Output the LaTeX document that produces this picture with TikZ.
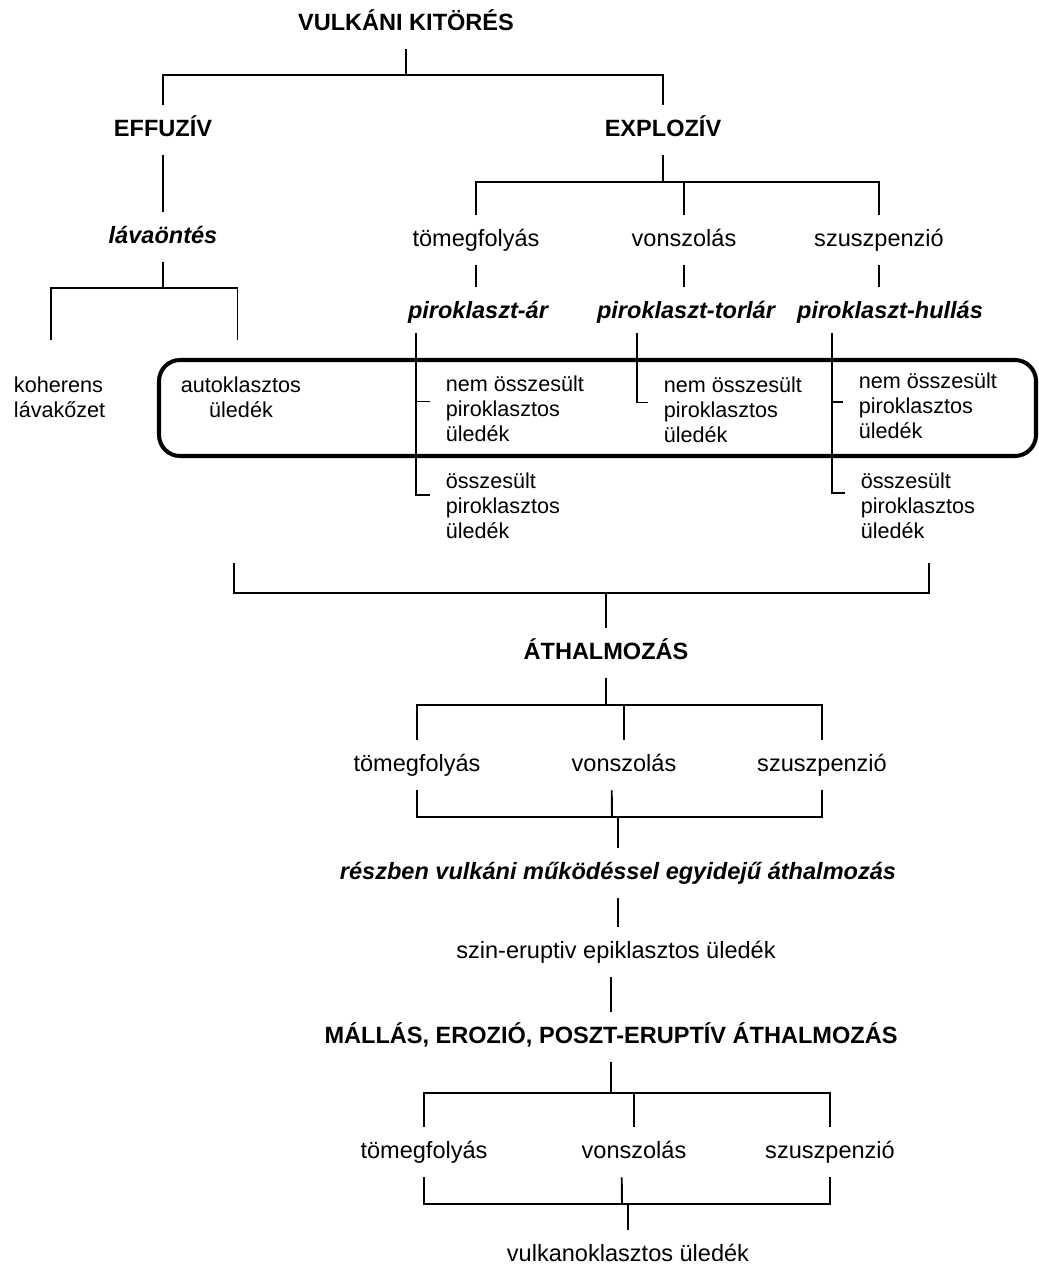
\documentclass[tikz,border=0pt]{standalone}
\usepackage{fontspec}
\setmainfont{Liberation Sans}

\tikzset{
    txt/.style={font=\fontsize{13.4}{14.2}\selectfont, inner sep=0pt},
    small/.style={font=\fontsize{12.3}{14.2}\selectfont, inner sep=0pt},
    tnode/.style={txt, text height=10pt, text depth=3pt, outer ysep=8pt},
    head/.style={tnode, font=\fontsize{13.4}{14.2}\selectfont\bfseries},
    proc/.style={tnode, font=\fontsize{13.4}{14.2}\selectfont\bfseries\itshape},
    side/.style={small, align=left, anchor=west, outer xsep=9pt},
    link/.style={line width=1.1pt}
}

\begin{document}
\begin{tikzpicture}[x=0.02cm, y=-0.02cm, link]
    \useasboundingbox (0,0) rectangle (1038,1270);

    % kitores
    \node[head] (vulk) at (406,24) {VULKÁNI KITÖRÉS};
    \node[head] (eff) at (163,130) {EFFUZÍV};
    \node[head] (expl) at (663,130) {EXPLOZÍV};
    \coordinate (j1) at (406,75);
    \draw (vulk.south) -- (j1);
    \draw (eff.north) |- (j1) -| (expl.north);

    % effuziv ag
    \node[proc] (lava) at (163,237) {lávaöntés};
    \draw (eff.south) -- (lava.north);
    \node[small, align=left, anchor=west] (koh) at (13,397) {koherens\\lávakőzet};
    \node[small, align=center] (auto) at (241,397) {autoklasztos\\üledék};
    \coordinate (j2) at (163,288);
    \draw (lava.south) -- (j2);
    \draw[shorten <=20.5pt, shorten >=20.5pt] ([xshift=-5pt]koh.north) |- (j2) -| ([xshift=-2pt]auto.north);

    % explaziv ag
    \node[txt, tnode] (t1) at (476,240) {tömegfolyás};
    \node[txt, tnode] (v1) at (684,240) {vonszolás};
    \node[txt, tnode] (s1) at (879,240) {szuszpenzió};
    \coordinate (j3) at (663,182);
    \draw (expl.south) -- (j3);
    \draw (t1.north) |- (j3) -| (s1.north);
    \draw (v1.north) -- (v1.north |- j3);

    \node[proc] (ar) at (478,312) {piroklaszt-ár};
    \node[proc] (torl) at (686,312) {piroklaszt-torlár};
    \node[proc] (hull) at (890,312) {piroklaszt-hullás};
    \draw (t1.south) -- (t1.south |- ar.north);
    \draw (v1.south) -- (v1.south |- torl.north);
    \draw (s1.south) -- (s1.south |- hull.north);

    % kozos keret
    \draw[line width=2.3pt, rounded corners=12pt] (159,360) rectangle (1036,456);

    \node[side] (nA) at (430,408.5) {nem összesült\\piroklasztos\\üledék};
    \node[side] (oA) at (430,506) {összesült\\piroklasztos\\üledék};
    \node[side] (nB) at (648,409.5) {nem összesült\\piroklasztos\\üledék};
    \node[side] (nC) at (843,405.5) {nem összesült\\piroklasztos\\üledék};
    \node[side] (oC) at (845,505.5) {összesült\\piroklasztos\\üledék};
    \coordinate (stA) at (416,333);
    \coordinate (stB) at (637,333);
    \coordinate (stC) at (832,333);
    \draw (stA) |- ([yshift=4pt]nA.west);
    \draw (stA) |- ([yshift=6.5pt]oA.west);
    \draw (stB) |- ([yshift=4pt]nB.west);
    \draw (stC) |- ([yshift=2pt]nC.west);
    \draw (stC) |- ([yshift=7pt]oC.west);

    % athalmozas
    \coordinate (la) at (234,563);
    \coordinate (ra) at (929,563);
    \coordinate (j4) at (606,593);
    \node[head] (ath) at (606,653) {ÁTHALMOZÁS};
    \draw (la) |- (j4) -| (ra);
    \draw (j4) -- (ath.north);

    \node[txt, tnode] (t2) at (417,765) {tömegfolyás};
    \node[txt, tnode] (v2) at (624,765) {vonszolás};
    \node[txt, tnode] (s2) at (822,765) {szuszpenzió};
    \coordinate (j5) at (606,705);
    \draw (ath.south) -- (j5);
    \draw (t2.north) |- (j5) -| (s2.north);
    \draw (v2.north) -- (v2.north |- j5);

    \node[proc] (resz) at (618,873) {részben vulkáni működéssel egyidejű áthalmozás};
    \coordinate (j6) at (612,817);
    \draw (t2.south) |- (j6) -| (s2.south);
    \draw ([xshift=-7pt]v2.south) -- (j6);
    \draw (resz.north |- j6) -- (resz.north);

    \node[txt, tnode] (szin) at (616,952) {szin-eruptiv epiklasztos üledék};
    \node[head] (mall) at (611,1037) {MÁLLÁS, EROZIÓ, POSZT-ERUPTÍV ÁTHALMOZÁS};
    \draw (resz.south) -- (resz.south |- szin.north);
    \draw (mall.north |- szin.south) -- (mall.north);

    % utolso szint
    \node[txt, tnode] (t3) at (424,1152) {tömegfolyás};
    \node[txt, tnode] (v3) at (634,1152) {vonszolás};
    \node[txt, tnode] (s3) at (830,1152) {szuszpenzió};
    \coordinate (j7) at (611,1093);
    \draw (mall.south) -- (j7);
    \draw (t3.north) |- (j7) -| (s3.north);
    \draw (v3.north) -- (v3.north |- j7);

    \node[txt, tnode] (vk) at (628,1255) {vulkanoklasztos üledék};
    \coordinate (j8) at (622,1204);
    \draw (t3.south) |- (j8) -| (s3.south);
    \draw ([xshift=-7pt]v3.south) -- (j8);
    \draw (vk.north |- j8) -- (vk.north);
\end{tikzpicture}
\end{document}
